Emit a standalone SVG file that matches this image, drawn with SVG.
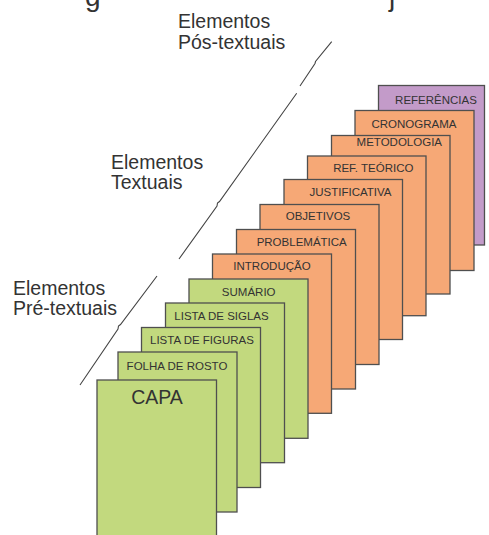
<svg xmlns="http://www.w3.org/2000/svg" width="489" height="535" viewBox="0 0 489 535">
<style>
.pg{stroke:#4f4f4f;stroke-width:1.3}
.g{fill:#c2d97e}
.o{fill:#f6a876}
.p{fill:#c39bc9}
.lb{font-family:"Liberation Sans",Arial,sans-serif;font-size:11.5px;fill:#333;text-anchor:middle}
.big{font-family:"Liberation Sans",Arial,sans-serif;font-size:19.5px;fill:#333}
.sep{fill:none;stroke:#444;stroke-width:1.1}
</style>
<rect width="489" height="535" fill="#fff"/>
<text class="big" x="85" y="6" style="font-size:28px">g</text>
<text class="big" x="389" y="6" style="font-size:28px">j</text>
<g id="labels">
<text class="big" x="178" y="28">Elementos</text>
<text class="big" x="178" y="48.5">Pós-textuais</text>
<text class="big" x="111" y="168.5">Elementos</text>
<text class="big" x="111" y="188.5">Textuais</text>
<text class="big" x="13" y="295">Elementos</text>
<text class="big" x="13" y="314.5">Pré-textuais</text>
</g>
<g id="connectors">
<path class="sep" d="M80,385 L118,329 L118.5,326 L120.5,324.5 L157,276"/>
<path class="sep" d="M179,259 L217,206 L217.5,203 L219.5,201.5 L296.7,93.3"/>
<path class="sep" d="M300,86 L315,63.5 L315.5,61.5 L331.7,41.7"/>
</g>
<g id="referencias"><rect class="pg p" x="378.5" y="85.5" width="106" height="159.5"/><text class="lb" x="436" y="104.3">REFERÊNCIAS</text></g>
<g id="cronograma"><rect class="pg o" x="355" y="110.5" width="119" height="160"/><text class="lb" x="414" y="128.3">CRONOGRAMA</text></g>
<g id="metodologia"><rect class="pg o" x="331.5" y="135.5" width="118.5" height="158.5"/><text class="lb" x="399.3" y="146">METODOLOGIA</text></g>
<g id="ref-teorico"><rect class="pg o" x="307.5" y="156" width="118.5" height="159.7"/><text class="lb" x="373.3" y="171.7">REF. TEÓRICO</text></g>
<g id="justificativa"><rect class="pg o" x="284" y="179.5" width="118.5" height="160"/><text class="lb" x="350.5" y="196">JUSTIFICATIVA</text></g>
<g id="objetivos"><rect class="pg o" x="260" y="204.5" width="119" height="160"/><text class="lb" x="318" y="220">OBJETIVOS</text></g>
<g id="problematica"><rect class="pg o" x="236.5" y="229.5" width="119" height="159.5"/><text class="lb" x="301.7" y="246">PROBLEMÁTICA</text></g>
<g id="introducao"><rect class="pg o" x="212.5" y="254" width="119" height="159.3"/><text class="lb" x="272" y="270">INTRODUÇÃO</text></g>
<g id="sumario"><rect class="pg g" x="189" y="279" width="119" height="159.3"/><text class="lb" x="248.7" y="295.5">SUMÁRIO</text></g>
<g id="lista-siglas"><rect class="pg g" x="165.5" y="303" width="119" height="159.7"/><text class="lb" x="221.5" y="320">LISTA DE SIGLAS</text></g>
<g id="lista-figuras"><rect class="pg g" x="141.5" y="327.5" width="119" height="160"/><text class="lb" x="202" y="344">LISTA DE FIGURAS</text></g>
<g id="folha-rosto"><rect class="pg g" x="118" y="352" width="119" height="160"/><text class="lb" x="177" y="369.5">FOLHA DE ROSTO</text></g>
<g id="capa"><rect class="pg g" x="97" y="380" width="119.5" height="165"/><text class="lb" x="157" y="404" style="font-size:19.5px">CAPA</text></g>
</svg>
